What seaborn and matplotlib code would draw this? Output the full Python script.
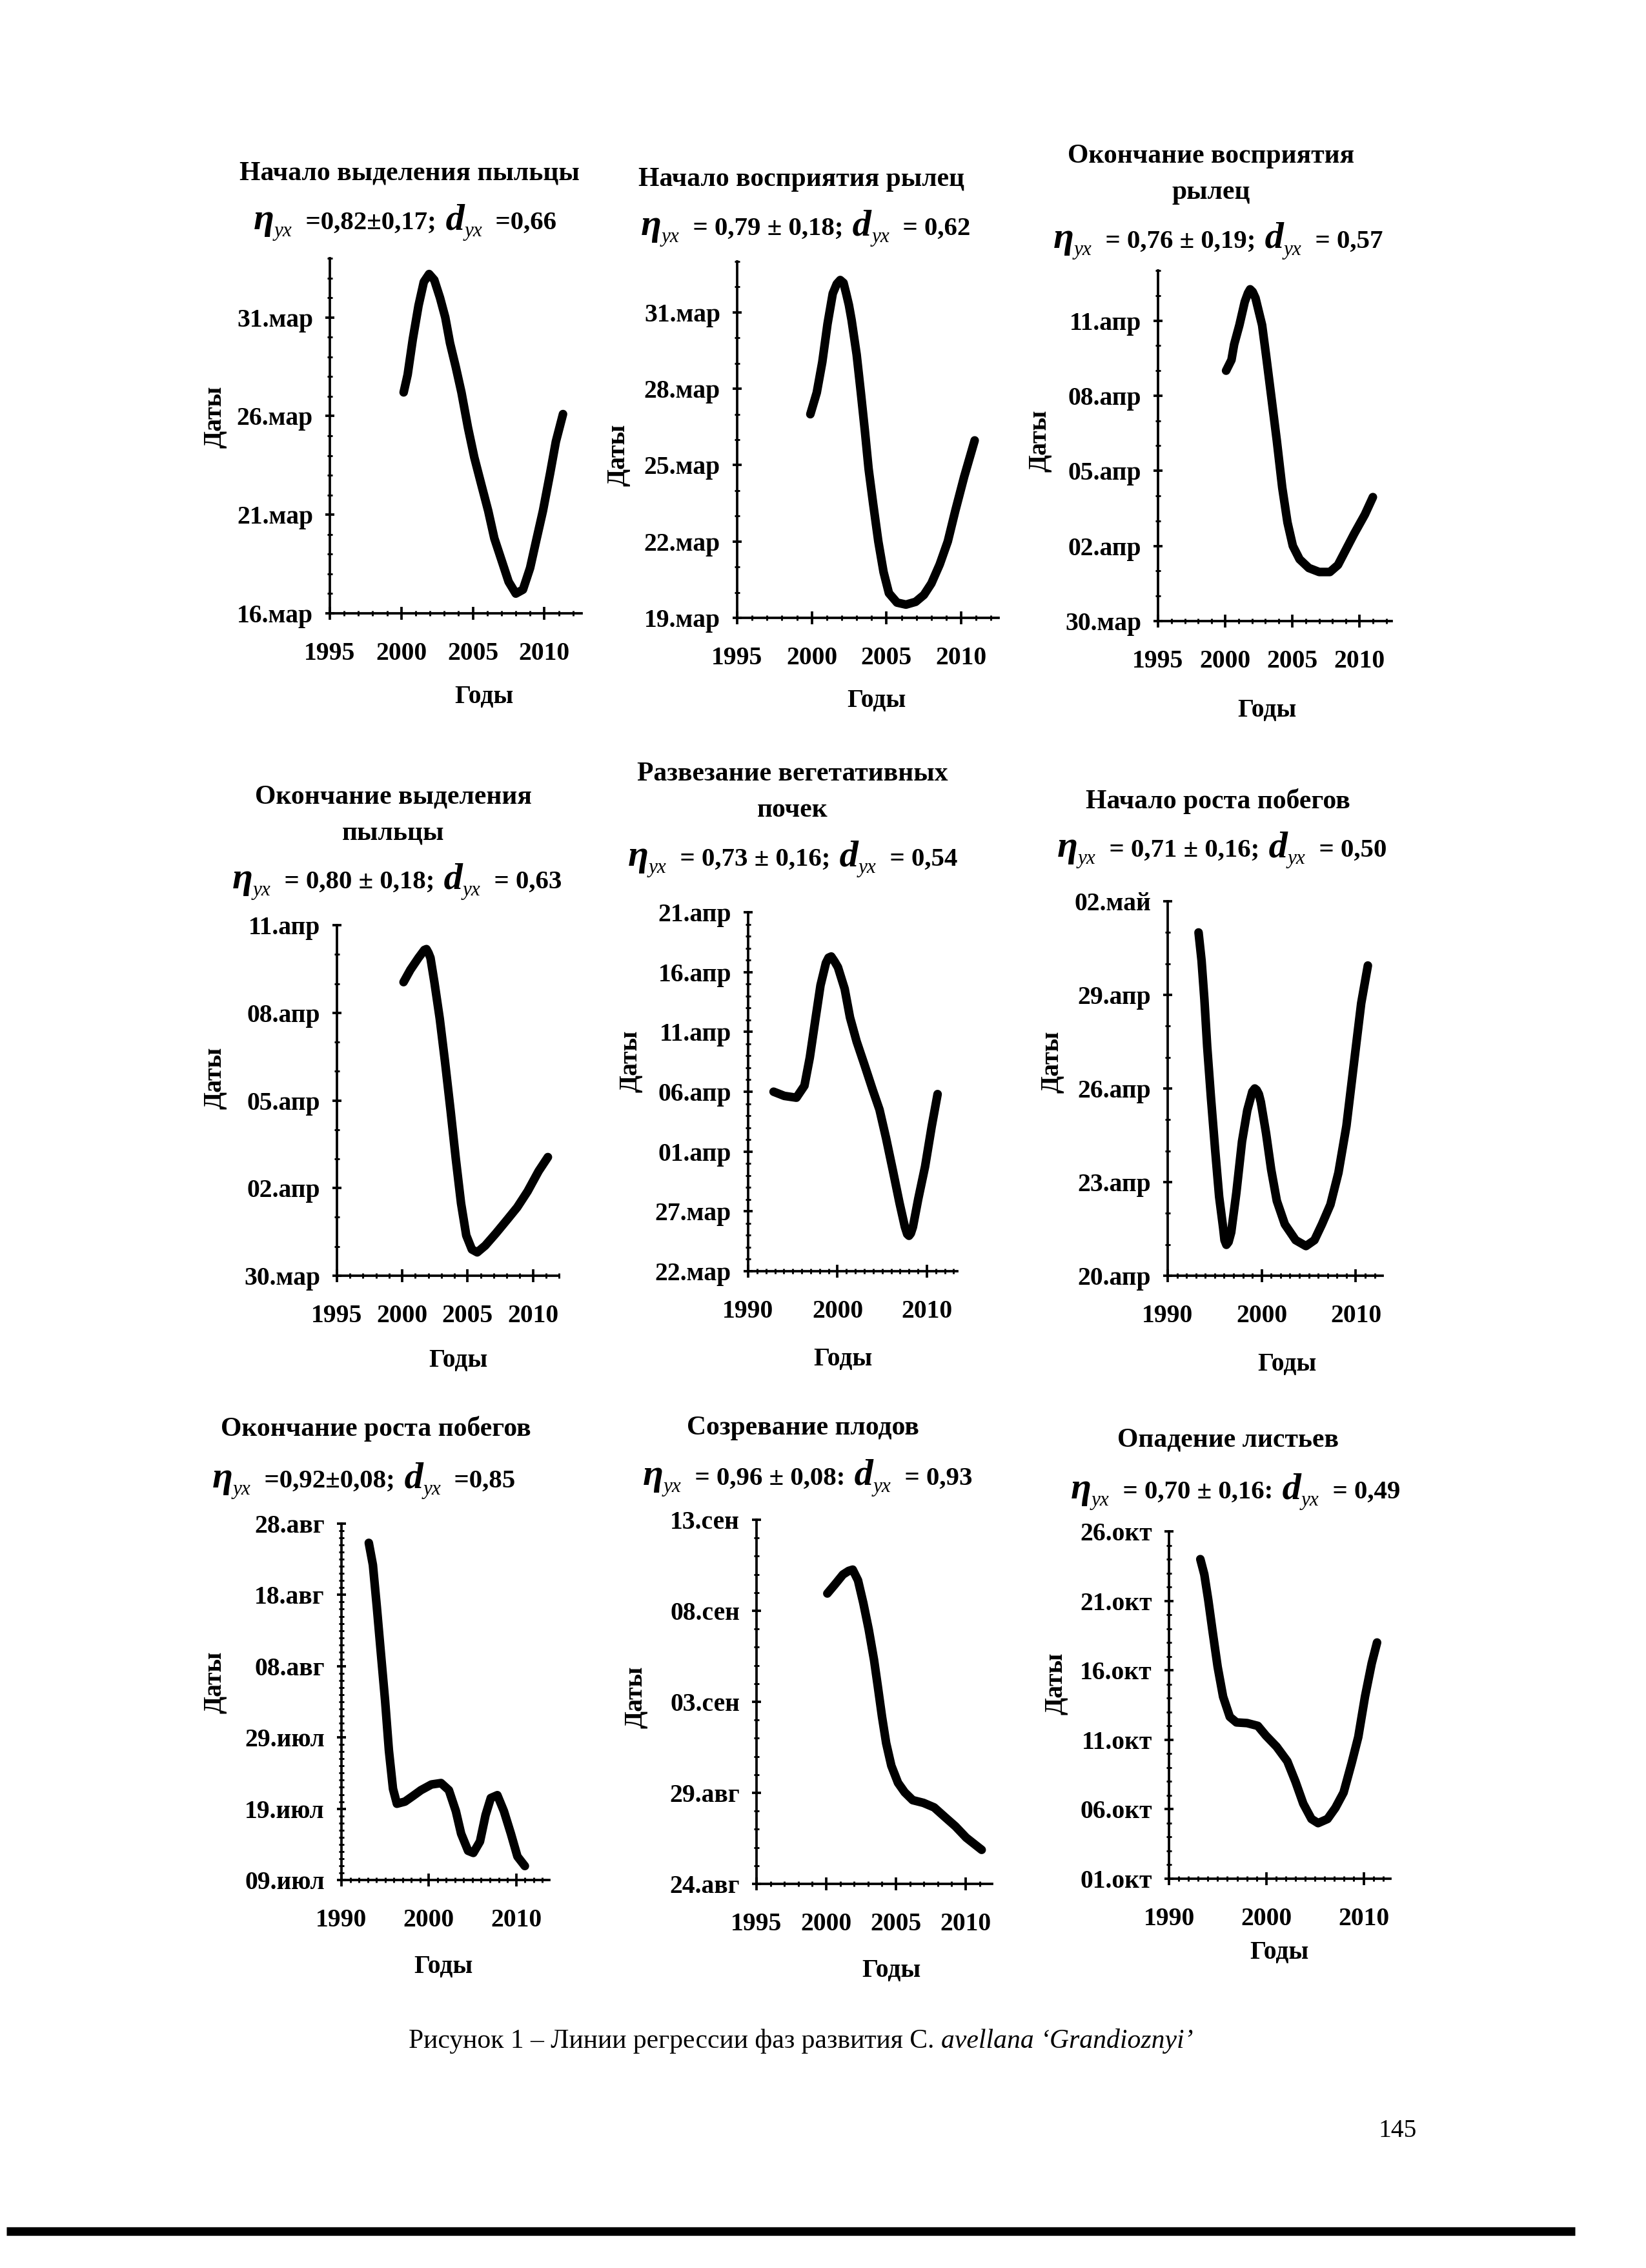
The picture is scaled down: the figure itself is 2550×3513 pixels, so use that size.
"""
Линии регрессии фаз развития C. avellana 'Grandioznyi' — 3x3 page of
phenology curves, rebuilt with seaborn on a full-page figure.
"""

import matplotlib
matplotlib.use("Agg")
import matplotlib.pyplot as plt
from matplotlib.ticker import MultipleLocator
from matplotlib.lines import Line2D
import seaborn as sns

sns.set_theme(style="ticks")
plt.rcParams["font.family"] = ["Liberation Serif", "DejaVu Serif"]

# ── Data (days counted from the lowest y tick date of each panel) ──────

TITLES = [
    ["Начало выделения пыльцы"],
    ["Начало восприятия рылец"],
    ["Окончание восприятия", "рылец"],
    ["Окончание выделения", "пыльцы"],
    ["Развезание вегетативных", "почек"],
    ["Начало роста побегов"],
    ["Окончание роста побегов"],
    ["Созревание плодов"],
    ["Опадение листьев"],
]
STAT_ETA = ["=0,82±0,17;", "= 0,79 ± 0,18;", "= 0,76 ± 0,19;",
            "= 0,80 ± 0,18;", "= 0,73 ± 0,16;", "= 0,71 ± 0,16;",
            "=0,92±0,08;", "= 0,96 ± 0,08:", "= 0,70 ± 0,16:"]
STAT_D = ["=0,66", "= 0,62", "= 0,57", "= 0,63", "= 0,54", "= 0,50",
          "=0,85", "= 0,93", "= 0,49"]

YTICKS = [
    ["16.мар", "21.мар", "26.мар", "31.мар"],
    ["19.мар", "22.мар", "25.мар", "28.мар", "31.мар"],
    ["30.мар", "02.апр", "05.апр", "08.апр", "11.апр"],
    ["30.мар", "02.апр", "05.апр", "08.апр", "11.апр"],
    ["22.мар", "27.мар", "01.апр", "06.апр", "11.апр", "16.апр", "21.апр"],
    ["20.апр", "23.апр", "26.апр", "29.апр", "02.май"],
    ["09.июл", "19.июл", "29.июл", "08.авг", "18.авг", "28.авг"],
    ["24.авг", "29.авг", "03.сен", "08.сен", "13.сен"],
    ["01.окт", "06.окт", "11.окт", "16.окт", "21.окт", "26.окт"],
]
YTOP = [18, 14, 14, 12, 30, 12, 50, 20, 25]

XTICKS = [
    [1995, 2000, 2005, 2010], [1995, 2000, 2005, 2010],
    [1995, 2000, 2005, 2010], [1995, 2000, 2005, 2010],
    [1990, 2000, 2010], [1990, 2000, 2010],
    [1990, 2000, 2010], [1995, 2000, 2005, 2010],
    [1990, 2000, 2010],
]
XMAX = [2012.6, 2012.5, 2012.4, 2012.0, 2013.4, 2012.85, 2013.8, 2011.9, 2012.75]

YEARS_1 = [2000.16, 2000.44, 2000.8, 2001.2, 2001.57, 2001.94, 2002.3, 2002.7,
           2003.07, 2003.4, 2003.8, 2004.2, 2004.66, 2005.1, 2005.6, 2006.07,
           2006.5, 2007.0, 2007.5, 2008.0, 2008.5, 2009.0, 2009.4, 2009.9,
           2010.4, 2010.8, 2011.3]
DAYS_1 = [11.2, 12.1, 13.9, 15.6, 16.8, 17.2, 16.9, 16.0, 15.0, 13.7, 12.5,
          11.2, 9.4, 7.9, 6.5, 5.2, 3.8, 2.7, 1.6, 1.0, 1.2, 2.3, 3.6, 5.2,
          7.1, 8.7, 10.1]

YEARS_2 = [1999.9, 2000.33, 2000.7, 2001.05, 2001.4, 2001.67, 2001.9, 2002.12,
           2002.3, 2002.48, 2002.66, 2003.0, 2003.28, 2003.55, 2003.8, 2004.1,
           2004.45, 2004.8, 2005.16, 2005.7, 2006.3, 2006.95, 2007.5, 2008.0,
           2008.56, 2009.1, 2009.6, 2010.2, 2010.9]
DAYS_2 = [8.0, 8.85, 10.05, 11.55, 12.74, 13.12, 13.27, 13.16, 12.74, 12.29,
          11.7, 10.34, 8.85, 7.35, 5.85, 4.5, 3.0, 1.8, 0.97, 0.6, 0.52, 0.63,
          0.9, 1.35, 2.1, 3.0, 4.2, 5.55, 6.97]

YEARS_3 = [2000.07, 2000.47, 2000.67, 2001.06, 2001.46, 2001.7, 2001.86,
           2002.05, 2002.26, 2002.75, 2003.05, 2003.45, 2003.85, 2004.25,
           2004.64, 2005.04, 2005.54, 2006.23, 2007.0, 2007.8, 2008.4, 2009.0,
           2009.6, 2010.4, 2011.0]
DAYS_3 = [10.0, 10.43, 11.05, 11.82, 12.75, 13.1, 13.25, 13.15, 12.9, 11.82,
          10.6, 8.9, 7.19, 5.33, 3.94, 3.0, 2.47, 2.12, 1.96, 1.96, 2.24, 2.86,
          3.48, 4.25, 4.95]

YEARS_4 = [2000.1, 2000.62, 2001.24, 2001.69, 2001.85, 2002.01, 2002.16,
           2002.46, 2002.87, 2003.28, 2003.7, 2004.1, 2004.5, 2004.9, 2005.33,
           2005.74, 2006.35, 2007.17, 2008.0, 2008.8, 2009.6, 2010.44, 2011.15]
DAYS_4 = [10.05, 10.47, 10.88, 11.15, 11.18, 11.05, 10.88, 10.05, 8.8, 7.3,
          5.65, 4.0, 2.48, 1.38, 0.9, 0.8, 1.03, 1.45, 1.9, 2.34, 2.89, 3.58,
          4.06]

YEARS_5 = [1992.85, 1994.05, 1995.4, 1996.3, 1996.9, 1997.5, 1998.1, 1998.7,
           1999.0, 1999.3, 1999.66, 2000.05, 2000.8, 2001.4, 2002.14, 2003.04,
           2003.94, 2004.7, 2005.44, 2006.2, 2006.94, 2007.54, 2007.8, 2008.0,
           2008.2, 2008.44, 2009.04, 2009.8, 2010.54, 2011.2]
DAYS_5 = [15.0, 14.65, 14.5, 15.5, 17.85, 20.9, 23.9, 25.75, 26.2, 26.3,
          25.9, 25.4, 23.6, 21.2, 19.2, 17.2, 15.15, 13.5, 11.1, 8.4, 5.7,
          3.7, 3.1, 2.96, 3.15, 3.7, 6.06, 8.75, 12.1, 14.8]

YEARS_6 = [1993.28, 1993.6, 1993.9, 1994.2, 1994.6, 1995.04, 1995.47, 1995.9,
           1996.04, 1996.24, 1996.47, 1996.75, 1997.3, 1997.9, 1998.46, 1999.0,
           1999.26, 1999.46, 1999.69, 1999.9, 2000.46, 2001.0, 2001.6, 2002.45,
           2003.6, 2004.7, 2005.6, 2006.4, 2007.3, 2008.15, 2009.0, 2009.86,
           2010.57, 2011.28]
DAYS_6 = [11.0, 10.1, 8.86, 7.34, 5.7, 4.05, 2.53, 1.52, 1.14, 0.99, 1.08,
          1.39, 2.66, 4.3, 5.3, 5.9, 6.0, 5.95, 5.82, 5.57, 4.56, 3.4, 2.4,
          1.65, 1.14, 0.95, 1.14, 1.65, 2.28, 3.3, 4.8, 6.96, 8.73, 9.94]

YEARS_7 = [1993.13, 1993.6, 1994.05, 1994.5, 1995.0, 1995.43, 1995.9,
           1996.35, 1997.27, 1998.2, 1999.1, 2000.3, 2001.4, 2002.3, 2003.1,
           2003.7, 2004.5, 2005.1, 2005.86, 2006.5, 2007.1, 2007.85, 2008.6,
           2009.4, 2010.15, 2011.0]
DAYS_7 = [47.3, 44.2, 38.3, 32.0, 25.1, 18.2, 12.8, 10.7, 11.0, 11.8, 12.6,
          13.4, 13.6, 12.6, 9.66, 6.5, 4.1, 3.8, 5.4, 9.1, 11.5, 11.9, 9.66,
          6.5, 3.3, 1.96]

YEARS_8 = [2000.08, 2000.65, 2001.2, 2001.61, 2001.9, 2002.28, 2002.66,
           2003.05, 2003.43, 2003.7, 2004.0, 2004.3, 2004.67, 2005.15, 2005.63,
           2006.2, 2006.97, 2007.74, 2008.5, 2009.27, 2010.04, 2011.15]
DAYS_8 = [15.95, 16.47, 16.99, 17.19, 17.26, 16.67, 15.43, 13.97, 12.3,
          10.85, 9.19, 7.73, 6.49, 5.55, 5.03, 4.6, 4.45, 4.2, 3.68, 3.16,
          2.54, 1.87]

YEARS_9 = [1993.22, 1993.63, 1994.04, 1994.46, 1995.0, 1995.56, 1996.25,
           1996.93, 1998.03, 1999.13, 1999.96, 2001.06, 2002.16, 2002.99,
           2003.8, 2004.64, 2005.32, 2006.29, 2007.1, 2007.94, 2008.76,
           2009.45, 2010.14, 2010.83, 2011.38]
DAYS_9 = [23.0, 21.9, 20.05, 17.9, 15.25, 13.1, 11.65, 11.25, 11.2, 11.0,
          10.3, 9.5, 8.45, 7.0, 5.4, 4.3, 4.0, 4.3, 5.1, 6.2, 8.3, 10.2, 13.1,
          15.5, 17.0]

SERIES = [(YEARS_1, DAYS_1), (YEARS_2, DAYS_2), (YEARS_3, DAYS_3),
          (YEARS_4, DAYS_4), (YEARS_5, DAYS_5), (YEARS_6, DAYS_6),
          (YEARS_7, DAYS_7), (YEARS_8, DAYS_8), (YEARS_9, DAYS_9)]

CAPTION_MAIN = "Рисунок 1 – Линии регрессии фаз развития C. "
CAPTION_ITALIC = "avellana ‘Grandioznyi’"
PAGE_NO = "145"

MONTH_START = {"мар": 59, "апр": 90, "май": 120, "июл": 181,
               "авг": 212, "сен": 243, "окт": 273}


def day_of_year(label):
    day, month = label.split(".")
    return MONTH_START[month] + int(day)


# ── Page layout (pixels on the 2550 x 3513 page) ───────────────────────

W, H, DPI = 2550, 3513, 300

# axes boxes: left, top, right, bottom
BOXES = [(511, 400, 901, 950), (1142, 405, 1547, 957), (1794, 419, 2156, 962),
         (522, 1433, 866, 1976), (1159, 1413, 1483, 1969), (1809, 1396, 2142, 1976),
         (529, 2360, 851, 2912), (1172, 2354, 1537, 2918), (1811, 2372, 2154, 2910)]
# title: centre x, baseline of first line
TITLE_POS = [(634, 279), (1242, 288), (1876, 252), (609, 1245), (1228, 1209),
             (1887, 1252), (582, 2224), (1244, 2222), (1903, 2240)]
# formula: left x, baseline
FORM_POS = [(393, 355), (993, 364), (1632, 384), (360, 1376), (973, 1341),
            (1638, 1327), (329, 2304), (996, 2300), (1659, 2321)]
XLAB_POS = [(750, 1080), (1358, 1086), (1963, 1100), (710, 2107), (1306, 2106),
            (1994, 2114), (687, 3046), (1381, 3052), (1982, 3024)]
YLAB_POS = [(333, 646), (958, 705), (1611, 683), (333, 1670), (977, 1644),
            (1630, 1645), (333, 2606), (985, 2629), (1636, 2608)]

FS_TITLE, FS_TICK, FS_NUM, FS_BIG, FS_SUB = 10, 9.5, 9.8, 14, 7.5

fig = plt.figure(figsize=(W / DPI, H / DPI), dpi=DPI)
fig.patch.set_facecolor("white")
renderer = fig.canvas.get_renderer()


def fx(px):
    return px / W


def fy(py):
    return 1 - py / H


def rich_text(x_px, y_px, pieces):
    """Lay text pieces left to right on a common baseline."""
    x = x_px
    for text, kw in pieces:
        kw = dict(kw)
        dy = kw.pop("dy", 0)
        t = fig.text(fx(x), fy(y_px + dy), text, ha="left", va="baseline",
                     color="black", **kw)
        x += t.get_window_extent(renderer).width


BIG = dict(fontsize=FS_BIG, fontweight="bold", fontstyle="italic")
SUB = dict(fontsize=FS_SUB, fontstyle="italic", dy=11)
NUM = dict(fontsize=FS_NUM, fontweight="bold")

for i, (years, days) in enumerate(SERIES):
    l, t, r, b = BOXES[i]
    ax = fig.add_axes([fx(l), fy(b), (r - l) / W, (b - t) / H])
    sns.lineplot(x=years, y=days, ax=ax, color="black", lw=3.2,
                 estimator=None, sort=False,
                 solid_capstyle="round", solid_joinstyle="round")

    ax.set_xlim(XTICKS[i][0], XMAX[i])
    ax.set_ylim(0, YTOP[i])
    base = day_of_year(YTICKS[i][0])
    ax.set_yticks([day_of_year(s) - base for s in YTICKS[i]], YTICKS[i])
    ax.set_xticks(XTICKS[i], [str(y) for y in XTICKS[i]])
    ax.yaxis.set_minor_locator(MultipleLocator(1))
    ax.xaxis.set_minor_locator(MultipleLocator(1))
    ax.set_xlabel("")
    ax.set_ylabel("")
    ax.set_facecolor("none")

    for side in ["top", "right"]:
        ax.spines[side].set_visible(False)
    for side in ["left", "bottom"]:
        ax.spines[side].set_linewidth(0.9)
        ax.spines[side].set_color("black")

    ax.tick_params(axis="y", which="major", direction="inout", length=3.5,
                   width=0.9, pad=4.5, labelsize=FS_TICK, colors="black")
    ax.tick_params(axis="x", which="major", direction="inout", length=5,
                   width=0.9, pad=8, labelsize=FS_TICK, colors="black")
    ax.tick_params(which="minor", direction="inout", length=2, width=0.7,
                   colors="black")
    for lab in ax.get_xticklabels() + ax.get_yticklabels():
        lab.set_fontweight("bold")

    # title lines
    cx, ty = TITLE_POS[i]
    for k, line in enumerate(TITLES[i]):
        fig.text(fx(cx), fy(ty + k * 56), line, ha="center", va="baseline",
                 fontsize=FS_TITLE, fontweight="bold", color="black")

    # correlation ratio line
    x0, y0 = FORM_POS[i]
    rich_text(x0, y0, [("η", BIG), ("yx", SUB), ("  " + STAT_ETA[i], NUM),
                       (" d", BIG), ("yx", SUB), ("  " + STAT_D[i], NUM)])

    gx, gy = XLAB_POS[i]
    fig.text(fx(gx), fy(gy), "Годы", ha="center", va="center",
             fontsize=FS_TICK, fontweight="bold", color="black")
    dx, dyl = YLAB_POS[i]
    fig.text(fx(dx), fy(dyl), "Даты", ha="center", va="center", rotation=90,
             fontsize=FS_TICK, fontweight="bold", color="black")

# ── Caption, page number, bottom rule ──────────────────────────────────

rich_text(633, 3172, [(CAPTION_MAIN, dict(fontsize=10)),
                      (CAPTION_ITALIC, dict(fontsize=10, fontstyle="italic"))])
fig.text(fx(2165), fy(3300), PAGE_NO, ha="center", va="center",
         fontsize=9.5, color="black")
fig.add_artist(Line2D([fx(10), fx(2440)], [fy(3456), fy(3456)],
                      color="black", lw=3.2, solid_capstyle="butt"))

fig.savefig("out.png", dpi=DPI, facecolor="white")
plt.close(fig)
